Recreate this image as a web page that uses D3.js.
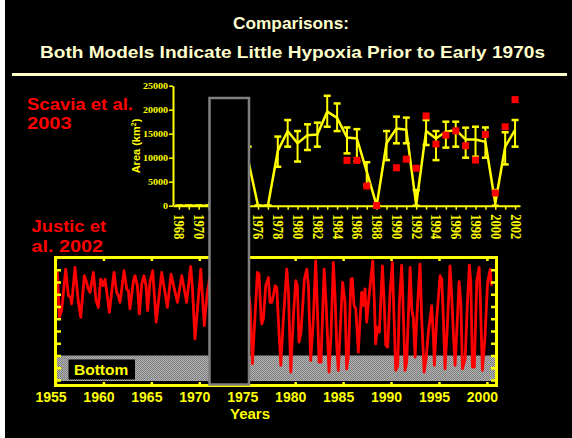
<!DOCTYPE html>
<html lang="en">
<head>
<meta charset="UTF-8">
<title>Comparisons: Hypoxia models</title>
<script src="https://d3js.org/d3.v7.min.js"></script>
<style>
  body { margin: 0; background: #fff; }
  svg { display: block; }
  text { font-family: "Liberation Sans", Arial, sans-serif; font-weight: bold; }
  text.serif { font-family: "Liberation Serif", "Times New Roman", serif; font-weight: bold; }
</style>
</head>
<body>
<div id="chart"></div>
<script>
// ---- top panel: Scavia et al. 2003 (model mean +/- range) and observed area ----
const scaviaYears = [1968, 1969, 1970, 1971, 1972, 1973, 1974, 1975, 1976, 1977, 1978, 1979,
  1980, 1981, 1982, 1983, 1984, 1985, 1986, 1987, 1988, 1989, 1990, 1991, 1992, 1993,
  1994, 1995, 1996, 1997, 1998, 1999, 2000, 2001, 2002];
const scaviaMean = [0, 0, 0, 0, 6000, 14000, 11000, 9500, 0, 0, 11400, 15550,
  13000, 14700, 14850, 19600, 18300, 14200, 14000, 7100, 0, 13000, 16100, 15800, 150, 15550,
  14000, 15400, 15800, 13800, 13800, 13300, 500, 12300, 15800];
const scaviaHigh = [0, 0, 0, 0, 9000, 17000, 14000, 12300, 0, 0, 14400, 17850,
  15550, 16950, 17300, 22900, 21300, 16300, 15950, 9050, 0, 15550, 18550, 18350, 3250, 17850,
  15550, 17500, 17500, 16250, 16450, 16300, 3250, 15300, 17850];
const scaviaLow = [0, 0, 0, 0, 3000, 11000, 8000, 6700, 0, 0, 8100, 12300,
  9200, 11600, 12300, 16450, 15550, 10900, 9300, 4300, 0, 9500, 13000, 13000, 0, 12650,
  9500, 12100, 12300, 10000, 10200, 10000, 0, 8600, 12300];
const obsYears = [1985, 1986, 1987, 1988, 1990, 1991, 1992, 1993, 1994, 1995, 1996, 1997,
  1998, 1999, 2000, 2001, 2002];
const obsArea = [9450, 9450, 4100, 40, 7900, 9700, 7800, 18700, 12850, 14700, 15600, 12500,
  9500, 14850, 2640, 16450, 22100];
const areaTicks = [0, 5000, 10000, 15000, 20000, 25000];

// ---- bottom panel: Justic et al. 2002 bottom-water oxygen ----
const justicYears = [
  1955.19, 1955.40, 1955.64, 1956.06, 1956.34, 1956.58, 1956.69, 1957.03, 1957.39, 1957.63,
  1958.01, 1958.25, 1958.42, 1958.60, 1958.95, 1959.23, 1959.47, 1959.71, 1959.98, 1960.17,
  1960.62, 1961.10, 1961.38, 1961.55, 1961.73, 1962.15, 1962.43, 1962.60, 1962.77, 1963.13,
  1963.30, 1963.54, 1963.75, 1963.99, 1964.23, 1964.44, 1964.61, 1964.85, 1965.14, 1965.50,
  1966.08, 1966.67, 1967.05, 1967.72, 1968.17, 1968.68, 1969.10, 1969.27, 1969.55, 1970.15,
  1970.52, 1970.83,
  1971.2, 1971.6, 1972.1, 1972.6, 1973.1, 1973.6, 1974.1, 1974.6, 1975.0,
  1975.30, 1975.54, 1976.06, 1976.23, 1976.45, 1976.52, 1976.69, 1976.93, 1977.21, 1977.38,
  1977.55, 1977.72, 1977.91, 1978.08, 1978.18, 1978.50, 1978.77, 1979.12, 1979.30, 1979.54,
  1979.82, 1980.06, 1980.23, 1980.40, 1980.61, 1980.96, 1981.21, 1981.38, 1981.62, 1981.90,
  1982.14, 1982.35, 1982.49, 1982.69, 1983.02, 1983.22, 1983.53, 1983.74, 1983.98, 1984.16,
  1984.33, 1984.50, 1984.67, 1984.95, 1985.20,
  1985.37, 1985.55, 1985.82, 1985.96, 1986.14, 1986.32, 1986.59, 1986.77, 1986.94, 1987.11,
  1987.28, 1987.46, 1987.71, 1988.09, 1988.26, 1988.40, 1988.57, 1988.78, 1989.10, 1989.27,
  1989.45, 1989.65, 1989.90, 1990.14, 1990.32, 1990.49, 1990.70, 1990.87, 1991.11, 1991.28,
  1991.46, 1991.63, 1991.99, 1992.16, 1992.33, 1992.51, 1992.68, 1993.02, 1993.20, 1993.45,
  1993.66, 1993.89, 1994.24, 1994.41, 1994.52, 1994.76, 1995.12, 1995.29, 1995.46, 1995.63,
  1995.91, 1996.15, 1996.33,
  1996.51, 1996.68, 1996.92, 1997.10, 1997.28, 1997.45, 1997.73, 1997.97, 1998.17, 1998.32,
  1998.49, 1998.69, 1998.94, 1999.19, 1999.29, 1999.53, 1999.81, 2000.07, 2000.35, 2000.46];
const justicO2 = [
  8.92, 5.12, 5.66, 9.05, 6.88, 6.75, 6.21, 9.19, 6.34, 5.12,
  8.51, 7.97, 7.43, 7.15, 8.78, 6.48, 5.93, 8.24, 7.70, 8.24,
  5.53, 8.78, 7.15, 6.88, 6.34, 8.92, 7.43, 7.29, 5.80, 8.10,
  8.51, 7.70, 5.39, 7.83, 8.51, 7.70, 5.66, 7.97, 8.92, 4.72,
  8.78, 5.93, 8.64, 6.34, 8.51, 6.34, 9.27, 7.70, 3.36, 9.05,
  4.44, 7.15,
  8.8, 4.5, 8.6, 3.8, 8.7, 2.5, 8.9, 3.0, 8.0,
  6.07, 1.33, 8.78, 8.64, 4.99, 4.58, 4.99, 7.70, 8.37, 6.34,
  6.34, 6.88, 7.70, 7.56, 5.93, 1.19, 4.99, 9.05, 7.15, 0.65,
  5.26, 8.10, 7.70, 3.09, 3.90, 8.24, 9.05, 7.70, 1.60, 4.99,
  9.73, 4.99, 1.46, 1.46, 9.05, 6.34, 0.65, 3.63, 9.59, 6.88,
  2.82, 0.79, 3.63, 7.97, 6.34,
  0.92, 2.01, 8.24, 8.29, 6.07, 5.80, 2.28, 4.99, 7.15, 6.07,
  7.43, 4.72, 6.88, 9.73, 6.34, 2.95, 4.31, 3.90, 9.32, 6.61,
  2.82, 2.68, 7.15, 9.59, 4.99, 0.79, 1.19, 6.34, 9.38, 5.53,
  0.79, 1.46, 9.19, 5.80, 4.99, 1.87, 4.99, 9.46, 4.99, 0.65,
  1.73, 3.90, 6.07, 3.63, 1.19, 4.99, 8.51, 8.24, 4.99, 0.92,
  4.99, 9.32, 6.88,
  3.63, 1.19, 4.99, 8.02, 6.34, 0.92, 1.73, 6.34, 9.38, 7.97,
  1.06, 1.06, 8.02, 9.19, 7.15, 0.79, 3.63, 7.97, 9.05, 7.70];
const yearTicks = [1955, 1960, 1965, 1970, 1975, 1980, 1985, 1990, 1995, 2000];
const o2Ticks = [0, 1, 2, 3, 4, 5, 6, 7, 8, 9];
const hypoxiaLimit = 2;

const yellow = "#ffff00", red = "#ff0000", cream = "#ffffcc";

const svg = d3.select("#chart").append("svg")
    .attr("width", 572)
    .attr("height", 438);

svg.append("rect").attr("width", 572).attr("height", 438).attr("fill", "#fff");
svg.append("rect").attr("x", 5).attr("width", 567).attr("height", 438).attr("fill", "#000");

// pattern for the "Bottom" band
const defs = svg.append("defs");
const pat = defs.append("pattern").attr("id", "dots")
    .attr("width", 2).attr("height", 2).attr("patternUnits", "userSpaceOnUse");
pat.append("rect").attr("width", 2).attr("height", 2).attr("fill", "#b4b4b4");
pat.append("rect").attr("width", 1).attr("height", 1).attr("fill", "#7c7c7c");
pat.append("rect").attr("x", 1).attr("y", 1).attr("width", 1).attr("height", 1).attr("fill", "#7c7c7c");

// Titles
svg.append("text").attr("x", 233).attr("y", 29)
    .attr("font-size", 16.5).attr("fill", cream)
    .attr("textLength", 116).attr("lengthAdjust", "spacingAndGlyphs")
    .text("Comparisons:");
svg.append("text").attr("x", 40).attr("y", 57.5)
    .attr("font-size", 16.5).attr("fill", cream)
    .attr("textLength", 505).attr("lengthAdjust", "spacingAndGlyphs")
    .text("Both Models Indicate Little Hypoxia Prior to Early 1970s");
svg.append("line").attr("x1", 12).attr("x2", 567).attr("y1", 74.5).attr("y2", 74.5)
    .attr("stroke", cream).attr("stroke-width", 3);

// Panel captions
const captions = [
    { t: "Scavia et al.", x: 27, y: 110, w: 106 },
    { t: "2003", x: 27, y: 128.5, w: 44.5 },
    { t: "Justic et", x: 31.5, y: 231.5, w: 74.5 },
    { t: "al. 2002", x: 31.5, y: 251.5, w: 71.5 }
];
captions.forEach(c => {
    svg.append("text").attr("x", c.x).attr("y", c.y)
        .attr("font-size", 16).attr("fill", red)
        .attr("textLength", c.w).attr("lengthAdjust", "spacingAndGlyphs")
        .text(c.t);
});

// ---------------- top panel ----------------
const xTop = d3.scaleLinear().domain([1967.4, 2002.5]).range([173, 520]);
const yTop = d3.scaleLinear().domain([0, 25000]).range([205.7, 85.7]);

const gx = svg.append("g")
    .attr("transform", `translate(0,${yTop(0)})`)
    .call(d3.axisBottom(xTop).tickValues(scaviaYears).tickSize(4).tickSizeOuter(0)
        .tickFormat(d => d % 2 === 0 ? d : ""));
gx.select(".domain").attr("stroke", yellow).attr("stroke-width", 2);
gx.selectAll(".tick line").attr("stroke", yellow).attr("stroke-width", 1.5);
gx.selectAll(".tick text")
    .attr("class", "serif")
    .attr("y", 0).attr("dy", "0.35em")
    .attr("text-anchor", "start")
    .attr("transform", "translate(0,8.5) rotate(90) scale(1.05,1.2)")
    .attr("font-size", 12)
    .attr("fill", yellow);

const gy = svg.append("g")
    .attr("transform", `translate(${xTop.range()[0]},0)`)
    .call(d3.axisLeft(yTop).tickValues(areaTicks).tickSize(4).tickSizeOuter(0).tickPadding(1)
        .tickFormat(d3.format("d")));
gy.select(".domain").attr("stroke", yellow).attr("stroke-width", 2);
gy.selectAll(".tick line").attr("stroke", yellow).attr("stroke-width", 1.5);
gy.selectAll(".tick text")
    .attr("class", "serif")
    .attr("font-size", 9)
    .attr("fill", yellow)
    .attr("textLength", d => String(d).length * 5)
    .attr("lengthAdjust", "spacingAndGlyphs");

const areaLabel = svg.append("text")
    .attr("transform", "translate(140,146) rotate(-90)")
    .attr("text-anchor", "middle")
    .attr("font-size", 11).attr("fill", yellow);
areaLabel.append("tspan").text("Area (km");
areaLabel.append("tspan").attr("font-size", 7).attr("dy", -4).text("2");
areaLabel.append("tspan").attr("dy", 4).text(")");

const scaviaData = scaviaYears.map((yr, i) => ({ yr, m: scaviaMean[i], hi: scaviaHigh[i], lo: scaviaLow[i] }));

svg.append("path")
    .datum(scaviaData)
    .attr("fill", "none")
    .attr("stroke", yellow)
    .attr("stroke-width", 2.5)
    .attr("stroke-linejoin", "round")
    .attr("d", d3.line().x(d => xTop(d.yr)).y(d => yTop(d.m)));

const err = svg.append("g").attr("stroke", yellow).attr("stroke-width", 2);
err.selectAll(".bar").data(scaviaData).enter().append("line")
    .attr("x1", d => xTop(d.yr)).attr("x2", d => xTop(d.yr))
    .attr("y1", d => yTop(d.hi)).attr("y2", d => yTop(d.lo));
err.selectAll(".capHi").data(scaviaData).enter().append("line")
    .attr("x1", d => xTop(d.yr) - 3.5).attr("x2", d => xTop(d.yr) + 3.5)
    .attr("y1", d => yTop(d.hi)).attr("y2", d => yTop(d.hi)).attr("stroke-width", 2.5);
err.selectAll(".capLo").data(scaviaData).enter().append("line")
    .attr("x1", d => xTop(d.yr) - 3.5).attr("x2", d => xTop(d.yr) + 3.5)
    .attr("y1", d => yTop(d.lo)).attr("y2", d => yTop(d.lo)).attr("stroke-width", 2.5);

svg.append("g").selectAll("rect")
    .data(obsYears.map((yr, i) => ({ yr, v: obsArea[i] })))
    .enter().append("rect")
    .attr("x", d => xTop(d.yr) - 3.5)
    .attr("y", d => yTop(d.v) - 3.5)
    .attr("width", 7).attr("height", 7)
    .attr("fill", red);

// ---------------- bottom panel ----------------
const xBot = d3.scaleLinear().domain([1955, 2001]).range([55.5, 496.5]);
const yBot = d3.scaleLinear().domain([0, 10]).range([380, 257.5]);
const frame = { x0: 55.5, x1: 496.5, y0: 257.5, y1: 385.5 };

svg.append("rect")
    .attr("x", frame.x0 + 1.5).attr("width", frame.x1 - frame.x0 - 3)
    .attr("y", yBot(hypoxiaLimit)).attr("height", yBot(0) - yBot(hypoxiaLimit) + 1)
    .attr("fill", "url(#dots)");

svg.append("rect").attr("x", 68.5).attr("y", 359.5).attr("width", 66.5).attr("height", 20)
    .attr("fill", "#000");
svg.append("text").attr("x", 74).attr("y", 374.5)
    .attr("font-size", 15.5).attr("fill", yellow).text("Bottom");

defs.append("clipPath").attr("id", "clipBot").append("rect")
    .attr("x", frame.x0).attr("y", frame.y0)
    .attr("width", frame.x1 - frame.x0).attr("height", frame.y1 - frame.y0);

svg.append("path")
    .datum(justicYears.map((yr, i) => ({ yr, v: justicO2[i] })))
    .attr("clip-path", "url(#clipBot)")
    .attr("fill", "none")
    .attr("stroke", red)
    .attr("stroke-width", 2.8)
    .attr("stroke-linejoin", "round")
    .attr("d", d3.line().x(d => xBot(d.yr)).y(d => yBot(d.v)));

// inward ticks on the frame
const tickStyle = g => {
    g.select(".domain").remove();
    g.selectAll(".tick line").attr("stroke", yellow).attr("stroke-width", 2.5);
};
svg.append("g").attr("transform", `translate(0,${frame.y0})`)
    .call(d3.axisTop(xBot).tickValues(yearTicks).tickSize(-3.5).tickFormat(""))
    .call(tickStyle);
svg.append("g").attr("transform", `translate(${frame.x0},0)`)
    .call(d3.axisLeft(yBot).tickValues(o2Ticks).tickSize(-5.5).tickFormat(""))
    .call(tickStyle);
svg.append("g").attr("transform", `translate(${frame.x1},0)`)
    .call(d3.axisRight(yBot).tickValues(o2Ticks).tickSize(-5.5).tickFormat(""))
    .call(tickStyle);
const gxb = svg.append("g").attr("transform", `translate(0,${frame.y1})`)
    .call(d3.axisBottom(xBot).tickValues(yearTicks).tickSize(-3.5).tickPadding(6.5).tickFormat(d3.format("d")))
    .call(tickStyle);
gxb.selectAll(".tick text")
    .attr("dx", -5)
    .attr("font-size", 14)
    .attr("fill", yellow);

svg.append("rect")
    .attr("x", frame.x0).attr("y", frame.y0)
    .attr("width", frame.x1 - frame.x0).attr("height", frame.y1 - frame.y0)
    .attr("fill", "none").attr("stroke", yellow).attr("stroke-width", 3);

svg.append("text").attr("x", 250).attr("y", 418.5)
    .attr("text-anchor", "middle")
    .attr("font-size", 15).attr("fill", yellow).text("Years");

// black cover box over the early 1970s
svg.append("rect")
    .attr("x", 209.5).attr("y", 98)
    .attr("width", 39.5).attr("height", 286.5)
    .attr("fill", "#000")
    .attr("stroke", "#808080")
    .attr("stroke-width", 2.5);
</script>
</body>
</html>
